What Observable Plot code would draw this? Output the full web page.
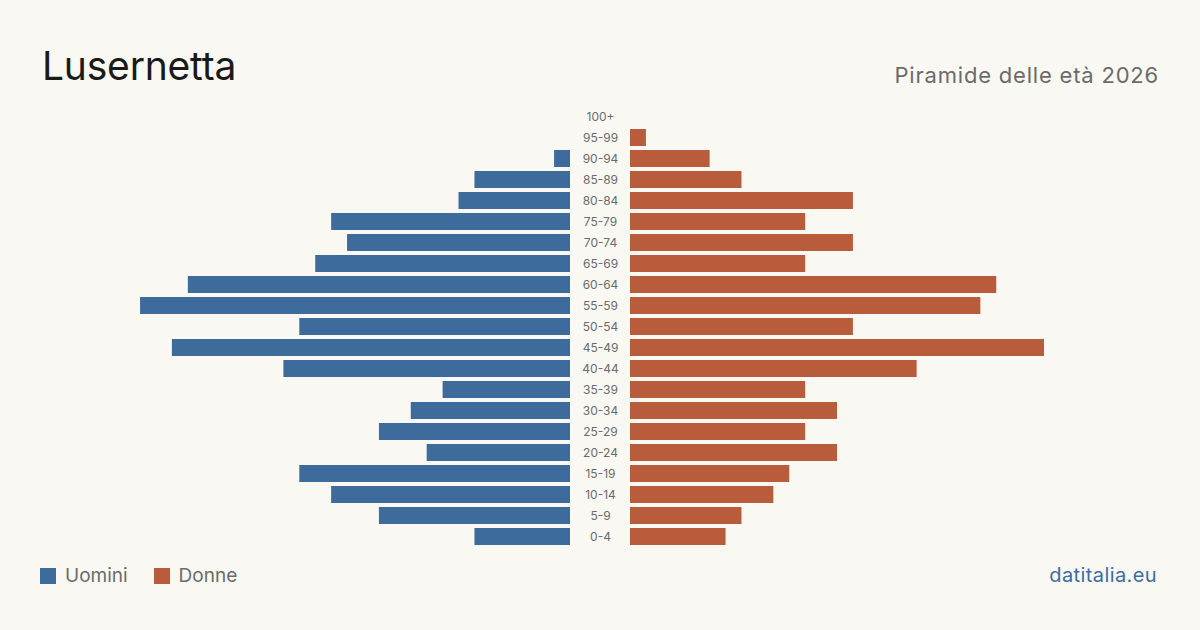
<!DOCTYPE html>
<html>
<head>
<meta charset="utf-8">
<script src="https://cdn.jsdelivr.net/npm/d3@7"></script>
<script src="https://cdn.jsdelivr.net/npm/@observablehq/plot@0.6"></script>
<style>
  html, body { margin: 0; padding: 0; background: #f9f8f3; }
  #page { position: relative; width: 1200px; height: 630px; background: #f9f8f3; font-family: Inter, "Noto Sans", sans-serif; overflow: hidden; }
  #title { position: absolute; left: 42px; top: 46px; font-size: 39px; color: #1a1a1a; letter-spacing: -0.2px; line-height: 1; }
  #subtitle { position: absolute; right: 41px; top: 64px; font-size: 22px; color: #6b6b6b; line-height: 1; letter-spacing: 0.8px; }
  #chart { position: absolute; left: 0; top: 100px; }
  #legend { position: absolute; left: 40px; top: 566px; font-size: 19px; color: #6b6b6b; display: flex; align-items: center; line-height: 20px; }
  .sw { display: inline-block; width: 16px; height: 16px; margin-right: 9px; }
  .item { display: flex; align-items: center; margin-right: 26px; }
  #source { position: absolute; right: 43px; top: 565px; font-size: 20px; color: #3a6ea5; line-height: 20px; letter-spacing: 0.4px; }
</style>
</head>
<body>
<div id="page">
  <div id="title">Lusernetta</div>
  <div id="subtitle">Piramide delle età 2026</div>
  <div id="chart"></div>
  <div id="legend">
    <span class="item"><span class="sw" style="background:#3d6b9b"></span>Uomini</span>
    <span class="item"><span class="sw" style="background:#b95c3c"></span>Donne</span>
  </div>
  <div id="source">datitalia.eu</div>
</div>
<script>
const ageGroups = ["100+","95-99","90-94","85-89","80-84","75-79","70-74","65-69","60-64","55-59","50-54","45-49","40-44","35-39","30-34","25-29","20-24","15-19","10-14","5-9","0-4"];
const uomini = [0,0,1,6,7,15,14,16,24,27,17,25,18,8,10,12,9,17,15,12,6];
const donne  = [0,1,5,7,14,11,14,11,23,22,14,26,18,11,13,11,13,10,9,7,6];

const rows = ageGroups.map((age, i) => ({age, m: uomini[i], f: donne[i]}));

const chart = Plot.plot({
  width: 1200,
  height: 450,
  marginTop: 5.5,
  marginBottom: 3.5,
  marginLeft: 0,
  marginRight: 0,
  style: {background: "transparent", fontFamily: "Inter, 'Noto Sans', sans-serif"},
  x: {domain: [-37.68, 37.68], axis: null},
  y: {domain: ageGroups, axis: null, paddingInner: 0.2, paddingOuter: 0.1},
  marks: [
    Plot.barX(rows.filter(d => d.m > 0), {x1: d => -d.m, x2: 0, y: "age", fill: "#3d6b9b", dx: -30}),
    Plot.barX(rows.filter(d => d.f > 0), {x1: 0, x2: "f", y: "age", fill: "#b95c3c", dx: 30}),
    Plot.text(rows, {x: 0, y: "age", text: "age", fill: "#6b6b6b", fontSize: 12, textAnchor: "middle"})
  ]
});
document.getElementById("chart").appendChild(chart);
</script>
</body>
</html>
